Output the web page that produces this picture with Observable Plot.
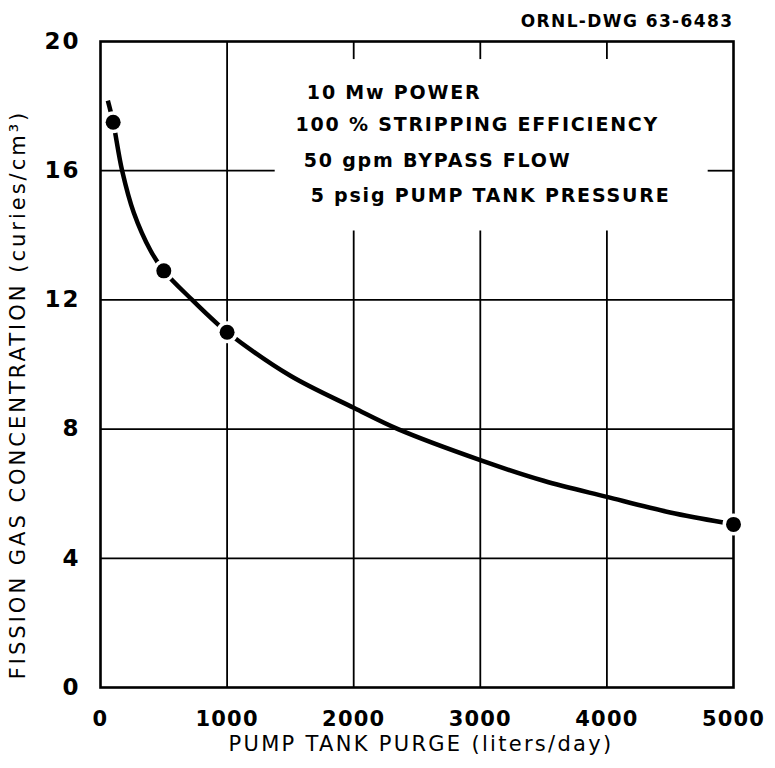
<!DOCTYPE html>
<html>
<head>
<meta charset="utf-8">
<script src="https://cdn.jsdelivr.net/npm/d3@7"></script>
<script src="https://cdn.jsdelivr.net/npm/@observablehq/plot@0.6"></script>
<style>
  html, body { margin: 0; padding: 0; background: #fff; }
  #chart svg { display: block; }
</style>
</head>
<body>
<div id="chart"></div>
<script>
// ---- data ----
const xTicks = [0, 1000, 2000, 3000, 4000, 5000];
const yTicks = [0, 4, 8, 12, 16, 20];

// measured points
const pointPurge = [100, 500, 1000, 5000];
const pointConc  = [17.5, 12.9, 11.0, 5.05];

// faired curve traced through the picture
const curvePurge = [58, 100, 171, 263, 395, 500, 724, 934, 1000, 1500, 2000, 2350, 3000, 3500, 4000, 4500, 4920];
const curveConc  = [18.17, 17.5, 16.0, 14.7, 13.53, 12.9, 12.0, 11.22, 11.0, 9.65, 8.66, 8.0, 7.04, 6.4, 5.9, 5.42, 5.11];

// grid segments (interrupted behind the note block)
const gridV = [
  {x: 1000, y1: 0, y2: 20},
  {x: 2000, y1: 0, y2: 14.13}, {x: 2000, y1: 19.44, y2: 20},
  {x: 3000, y1: 0, y2: 14.13}, {x: 3000, y1: 19.44, y2: 20},
  {x: 4000, y1: 0, y2: 14.13}, {x: 4000, y1: 19.44, y2: 20}
];
const gridH = [
  {y: 4, x1: 0, x2: 5000},
  {y: 8, x1: 0, x2: 5000},
  {y: 12, x1: 0, x2: 5000},
  {y: 16, x1: 0, x2: 1380}, {y: 16, x1: 4800, x2: 5000}
];

// note block
const noteLines = ["10 Mw POWER", "100 % STRIPPING EFFICIENCY", "50 gpm BYPASS FLOW", "5 psig PUMP TANK PRESSURE"];
const noteX = [1630, 1540, 1605, 1660];
const noteY = [18.4, 17.42, 16.31, 15.21];

const drawingNo = "ORNL-DWG 63-6483";
const xLabel = "PUMP TANK PURGE (liters/day)";
const yLabel = "FISSION GAS CONCENTRATION (curies/cm³)";

// ---- build tables ----
const points = pointPurge.map((x, i) => ({x, y: pointConc[i]}));
const curve = curvePurge.map((x, i) => ({x, y: curveConc[i]}));
const notes = noteLines.map((t, i) => ({t, x: noteX[i], y: noteY[i]}));

const font = "'DejaVu Sans', sans-serif";

const chart = Plot.plot({
  width: 775,
  height: 768,
  marginLeft: 100,
  marginRight: 42,
  marginTop: 41,
  marginBottom: 81,
  style: {fontFamily: font, color: "#000", background: "#fff"},
  x: {domain: [0, 5000]},
  y: {domain: [0, 20]},
  marks: [
    Plot.ruleX(gridV, {x: "x", y1: "y1", y2: "y2", stroke: "#000", strokeWidth: 1.8}),
    Plot.ruleY(gridH, {y: "y", x1: "x1", x2: "x2", stroke: "#000", strokeWidth: 1.8}),
    Plot.frame({stroke: "#000", strokeWidth: 2.6}),
    Plot.line(curve, {x: "x", y: "y", curve: "catmull-rom", stroke: "#000", strokeWidth: 4.5, strokeLinecap: "butt"}),
    Plot.dot(points, {x: "x", y: "y", r: 7.5, fill: "#000", stroke: "#fff", strokeWidth: 7}),
    Plot.dot(points, {x: "x", y: "y", r: 7.5, fill: "#000"}),
    Plot.text(notes, {x: "x", y: "y", text: "t", textAnchor: "start", fontSize: 19, fontWeight: "bold", fill: "#000"}),
    Plot.axisX(xTicks, {tickSize: 0, tickPadding: 24, fontSize: 21, fontWeight: "bold", label: null, tickFormat: d => String(d)}),
    Plot.axisY(yTicks, {tickSize: 0, tickPadding: 20, fontSize: 23, fontWeight: "bold", label: null, tickFormat: d => String(d)}),
    Plot.text([xLabel], {frameAnchor: "bottom", textAnchor: "middle", dy: 63, dx: 4, fontSize: 21, fill: "#000"}),
    Plot.text([yLabel], {frameAnchor: "left", textAnchor: "middle", rotate: -90, dx: -82, dy: 30, fontSize: 21, fill: "#000"}),
    Plot.text([drawingNo], {frameAnchor: "top-right", textAnchor: "end", dy: -27, fontSize: 17, fontWeight: "bold", fill: "#000"})
  ]
});

// letter spacing to match the wide hand lettering of the original
const svg = d3.select(chart);
svg.selectAll("[aria-label='text'] text").each(function() {
  const t = this.textContent;
  if (t === xLabel) this.setAttribute("letter-spacing", "2.3");
  else if (t === yLabel) this.setAttribute("letter-spacing", "3");
  else if (t === drawingNo) this.setAttribute("letter-spacing", "1.4");
  else this.setAttribute("letter-spacing", "1.8");
});
svg.selectAll("[aria-label='x-axis tick label'] text").attr("letter-spacing", "1.2");
svg.selectAll("[aria-label='y-axis tick label'] text").attr("letter-spacing", "2");
document.getElementById("chart").append(chart);
</script>
</body>
</html>
